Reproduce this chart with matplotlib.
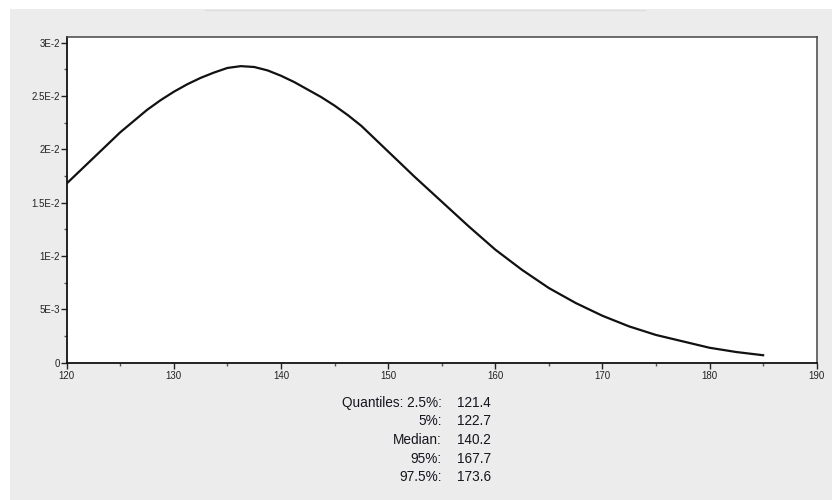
import numpy as np
import matplotlib.pyplot as plt
from matplotlib.patches import Rectangle
from matplotlib.lines import Line2D
from matplotlib.ticker import MultipleLocator

# density curve
x_vals = [120, 122.5, 125, 127.5, 128.75, 130, 131.25, 132.5, 133.75, 135, 136.25,
          137.5, 138.75, 140, 141.25, 142.5, 143.75, 145, 146.25, 147.5,
          150, 152.5, 155, 157.5, 160, 162.5, 165, 167.5, 170, 172.5, 175, 177.5,
          180, 182.5, 185]
y_vals = [0.0168, 0.0192, 0.0216, 0.0237, 0.0246, 0.0254, 0.0261, 0.0267, 0.0272,
          0.02763, 0.0278, 0.02772, 0.0274, 0.0269, 0.0263, 0.0256, 0.0249, 0.0241,
          0.0232, 0.0222, 0.0198, 0.0174, 0.0151, 0.0128, 0.0106, 0.0087,
          0.0070, 0.0056, 0.0044, 0.0034, 0.0026, 0.0020, 0.0014, 0.0010, 0.0007]

y_ticks = [0, 0.005, 0.01, 0.015, 0.02, 0.025, 0.03]
y_tick_labels = ['0', '5E-3', '1E-2', '1.5E-2', '2E-2', '2.5E-2', '3E-2']
x_ticks = [120, 130, 140, 150, 160, 170, 180, 190]

q_names = ['Quantiles: 2.5%:', '5%:', 'Median:', '95%:', '97.5%:']
q_values = ['121.4', '122.7', '140.2', '167.7', '173.6']

W, H = 832, 500
plt.rcParams['font.family'] = ['Liberation Sans', 'DejaVu Sans']

fig = plt.figure(figsize=(W / 100, H / 100), dpi=100)
fig.patch.set_facecolor('#ececec')
# white margins at top and left
fig.patches.append(Rectangle((0, 1 - 9 / H), 1, 9 / H, transform=fig.transFigure,
                             facecolor='white', edgecolor='none', zorder=0))
fig.patches.append(Rectangle((0, 0), 10 / W, 1, transform=fig.transFigure,
                             facecolor='white', edgecolor='none', zorder=0))
fig.lines.append(Line2D([205 / W, 645 / W], [1 - 9.5 / H, 1 - 9.5 / H],
                        transform=fig.transFigure, color='#dedede', lw=1))

left, right, top, bottom = 66.7, 816.7, 36.7, 362.7
ax = fig.add_axes([left / W, 1 - bottom / H, (right - left) / W, (bottom - top) / H])
ax.set_facecolor('white')

ax.plot(x_vals, y_vals, color='#111111', lw=1.6, solid_joinstyle='round')

ax.set_xlim(120, 190)
ax.set_ylim(0, 0.03056)
ax.set_xticks(x_ticks)
ax.set_xticklabels([str(t) for t in x_ticks])
ax.set_yticks(y_ticks)
ax.set_yticklabels(y_tick_labels)
ax.xaxis.set_minor_locator(MultipleLocator(5))
ax.yaxis.set_minor_locator(MultipleLocator(0.0025))

ax.tick_params(which='major', direction='out', length=4, width=1, color='#222222',
               labelsize=7, labelcolor='#222222', pad=2)
ax.tick_params(which='minor', direction='out', length=2, width=1, color='#555555')
ax.tick_params(axis='y', pad=1)

for side in ['left', 'bottom']:
    ax.spines[side].set_color('#111111')
    ax.spines[side].set_linewidth(1.3)
for side in ['top', 'right']:
    ax.spines[side].set_color('#444444')
    ax.spines[side].set_linewidth(1.1)

# quantile table under the plot
row_y = [402.7, 421.3, 440.0, 458.7, 477.3]
for name, val, py in zip(q_names, q_values, row_y):
    fig.text(441.5 / W, 1 - py / H, name, ha='right', va='center', fontsize=9.8,
             color='#15151d')
    fig.text(456.5 / W, 1 - py / H, val, ha='left', va='center', fontsize=9.8,
             color='#15151d')

fig.savefig('out.png', dpi=100, facecolor=fig.get_facecolor())
